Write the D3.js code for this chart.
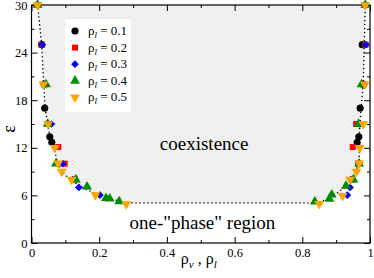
<!DOCTYPE html>
<html>
<head>
<meta charset="utf-8">
<script src="https://cdn.jsdelivr.net/npm/d3@7"></script>
<style>
  body { margin: 0; background: #fff; }
  svg text { font-family: "Liberation Serif", "Times New Roman", Times, "DejaVu Serif", serif !important; fill: #000; }
</style>
</head>
<body>
<div id="chart"></div>
<script>
// tick values
const xTicks = [0, 0.2, 0.4, 0.6, 0.8, 1];
const xMinor = [0.1, 0.3, 0.5, 0.7, 0.9];
const yTicks = [0, 6, 12, 18, 24, 30];
const yMinor = [3, 9, 15, 21, 27];

// legend labels (rho_l)
const seriesLabels = ["0.1", "0.2", "0.3", "0.4", "0.5"];
const seriesColors = ["#000000", "#ff0000", "#0000ff", "#008c00", "#ffa500"];

// points [rho, epsilon] for each rho_l
const s01 = [[0.018, 30], [0.986, 30], [0.03, 25], [0.977, 25], [0.037, 20], [0.98, 20],
  [0.039, 17], [0.971, 17], [0.054, 13.4], [0.967, 13.4], [0.06, 12.7], [0.962, 12.7]];
const s02 = [[0.018, 30], [0.986, 30], [0.03, 25], [0.987, 25], [0.04, 20], [0.98, 20],
  [0.05, 15], [0.959, 15], [0.079, 12.1], [0.949, 12.1], [0.098, 10], [0.966, 10],
  [0.128, 8], [0.948, 8]];
const s03 = [[0.018, 30], [0.986, 30], [0.032, 25], [0.988, 25], [0.038, 20], [0.982, 20],
  [0.059, 15], [0.97, 15], [0.092, 10], [0.967, 10], [0.122, 8], [0.944, 8],
  [0.14, 7], [0.941, 7], [0.202, 6.05], [0.933, 6.05]];
const s04 = [[0.018, 30], [0.986, 30], [0.043, 20], [0.975, 20], [0.048, 15], [0.966, 15],
  [0.072, 10], [0.968, 10], [0.131, 8], [0.951, 8], [0.164, 7.1], [0.929, 7.2],
  [0.22, 5.65], [0.887, 6.1], [0.231, 5.6], [0.88, 5.55], [0.259, 5.25], [0.837, 5.2]];
const s05 = [[0.018, 30], [0.986, 30], [0.035, 20], [0.985, 20], [0.049, 15], [0.98, 15],
  [0.069, 12], [0.97, 12], [0.079, 10.05], [0.968, 10.05], [0.089, 9], [0.96, 9],
  [0.118, 8], [0.941, 8], [0.189, 6.05], [0.919, 5.95], [0.28, 4.9], [0.85, 4.95]];
const series = [s01, s02, s03, s04, s05];

// coexistence boundary (dotted curve)
const boundary = [[0.018, 30], [0.03, 25], [0.036, 20], [0.04, 17], [0.048, 15], [0.056, 13],
  [0.066, 12], [0.078, 10], [0.09, 9], [0.112, 8], [0.15, 7], [0.19, 6.2], [0.23, 5.6],
  [0.27, 5.15], [0.3, 5.05], [0.84, 5.05], [0.86, 5.3], [0.89, 5.9], [0.925, 7], [0.945, 8],
  [0.958, 9], [0.966, 10], [0.97, 12], [0.968, 13], [0.97, 15], [0.974, 17], [0.98, 20],
  [0.983, 25], [0.986, 30]];

const width = 374, height = 278;
const margin = { top: 5, right: 4, bottom: 35, left: 31.5 };
const w = width - margin.left - margin.right;
const h = height - margin.top - margin.bottom;

// marker shapes: circle, square, diamond, triangle up, triangle down
const markers = [
  { type: d3.symbolCircle, size: 40, rot: 0 },
  { type: d3.symbolSquare, size: 36, rot: 0 },
  { type: d3.symbolSquare, size: 30, rot: 45 },
  { type: d3.symbolTriangle, size: 42, rot: 0 },
  { type: d3.symbolTriangle, size: 42, rot: 180 },
];

const svg = d3.select("#chart").append("svg")
  .attr("width", width).attr("height", height);

const defs = svg.append("defs");
const pat = defs.append("pattern")
  .attr("id", "dots").attr("patternUnits", "userSpaceOnUse")
  .attr("width", 8.5).attr("height", 8.5);
pat.append("rect").attr("width", 8.5).attr("height", 8.5).attr("fill", "#f0f0f0");
pat.append("rect").attr("x", 4).attr("y", 4).attr("width", 1).attr("height", 1).attr("fill", "#d2d2d2");

const g = svg.append("g").attr("transform", `translate(${margin.left},${margin.top})`);

const x = d3.scaleLinear().domain([0, 1]).range([0, w]);
const y = d3.scaleLinear().domain([0, 30]).range([h, 0]);

// shaded coexistence region
const line = d3.line().x(d => x(d[0])).y(d => y(d[1]));
g.append("path")
  .attr("d", line(boundary) + "Z")
  .attr("fill", "url(#dots)");

// region labels
g.append("text").attr("x", x(0.51)).attr("y", 150 - margin.top)
  .attr("text-anchor", "middle").style("font-size", "19px").text("coexistence");
g.append("text").attr("x", x(0.505)).attr("y", 229 - margin.top)
  .attr("text-anchor", "middle").style("font-size", "19px").text('one-"phase" region');

// dotted boundary line
g.append("path")
  .attr("d", line(boundary))
  .attr("fill", "none").attr("stroke", "#000")
  .attr("stroke-width", 1.6).attr("stroke-linecap", "round")
  .attr("stroke-dasharray", "0,4");

// axes: ticks inward on all four sides
const axes = [
  { ax: d3.axisBottom(x), t: `translate(0,${h})`, scale: "x", labels: true, pad: 5 },
  { ax: d3.axisTop(x), t: "translate(0,0)", scale: "x", labels: false, pad: 5 },
  { ax: d3.axisLeft(y), t: "translate(0,0)", scale: "y", labels: true, pad: 4 },
  { ax: d3.axisRight(y), t: `translate(${w},0)`, scale: "y", labels: false, pad: 4 },
];
axes.forEach(a => {
  const major = a.scale === "x" ? xTicks : yTicks;
  const minor = a.scale === "x" ? xMinor : yMinor;
  g.append("g").attr("transform", a.t)
    .call(a.ax.tickValues(minor).tickSize(-3).tickFormat(""))
    .call(s => s.select(".domain").remove())
    .selectAll("line").attr("stroke", "#000");
  const ga = g.append("g").attr("transform", a.t)
    .call(a.ax.tickValues(major).tickSize(-6).tickPadding(a.pad)
      .tickFormat(a.labels ? d3.format("") : ""));
  ga.select(".domain").remove();
  ga.selectAll("line").attr("stroke", "#000");
  ga.selectAll("text").style("font-size", "12.5px");
});

// frame
g.append("rect").attr("width", w).attr("height", h)
  .attr("fill", "none").attr("stroke", "#000").attr("stroke-width", 1.2);

// markers
const sym = m => d3.symbol().type(m.type).size(m.size);
series.forEach((pts, i) => {
  const m = markers[i];
  g.append("g").selectAll("path").data(pts).join("path")
    .attr("transform", d => `translate(${x(d[0])},${y(d[1])}) rotate(${m.rot})`)
    .attr("d", sym(m))
    .attr("fill", seriesColors[i]);
});

// legend
const lg = g.append("g").attr("transform", `translate(${65 - margin.left},${19 - margin.top})`);
lg.append("rect").attr("width", 66).attr("height", 93).attr("fill", "#fff");
seriesLabels.forEach((lab, i) => {
  const yy = 12 + i * 16.6;
  const m = markers[i];
  lg.append("path")
    .attr("transform", `translate(10,${yy}) rotate(${m.rot})`)
    .attr("d", sym(m))
    .attr("fill", seriesColors[i]);
  const t = lg.append("text").attr("x", 23).attr("y", yy + 4).style("font-size", "13px");
  t.append("tspan").text("ρ");
  t.append("tspan").attr("dy", 3).style("font-size", "9px").style("font-style", "italic").text("l");
  t.append("tspan").attr("dy", -3).text(" = " + lab);
});

// axis titles
const xl = svg.append("text")
  .attr("x", margin.left + w / 2 - 2).attr("y", 264)
  .attr("text-anchor", "middle").style("font-size", "16px");
xl.append("tspan").text("ρ");
xl.append("tspan").attr("dy", 4).style("font-size", "11px").style("font-style", "italic").text("v");
xl.append("tspan").attr("dy", -4).text(" , ρ");
xl.append("tspan").attr("dy", 4).style("font-size", "11px").style("font-style", "italic").text("l");

svg.append("text")
  .attr("transform", `translate(15,${margin.top + h / 2 + 5}) rotate(-90)`)
  .attr("text-anchor", "middle").style("font-size", "18px").text("ε");
</script>
</body>
</html>
